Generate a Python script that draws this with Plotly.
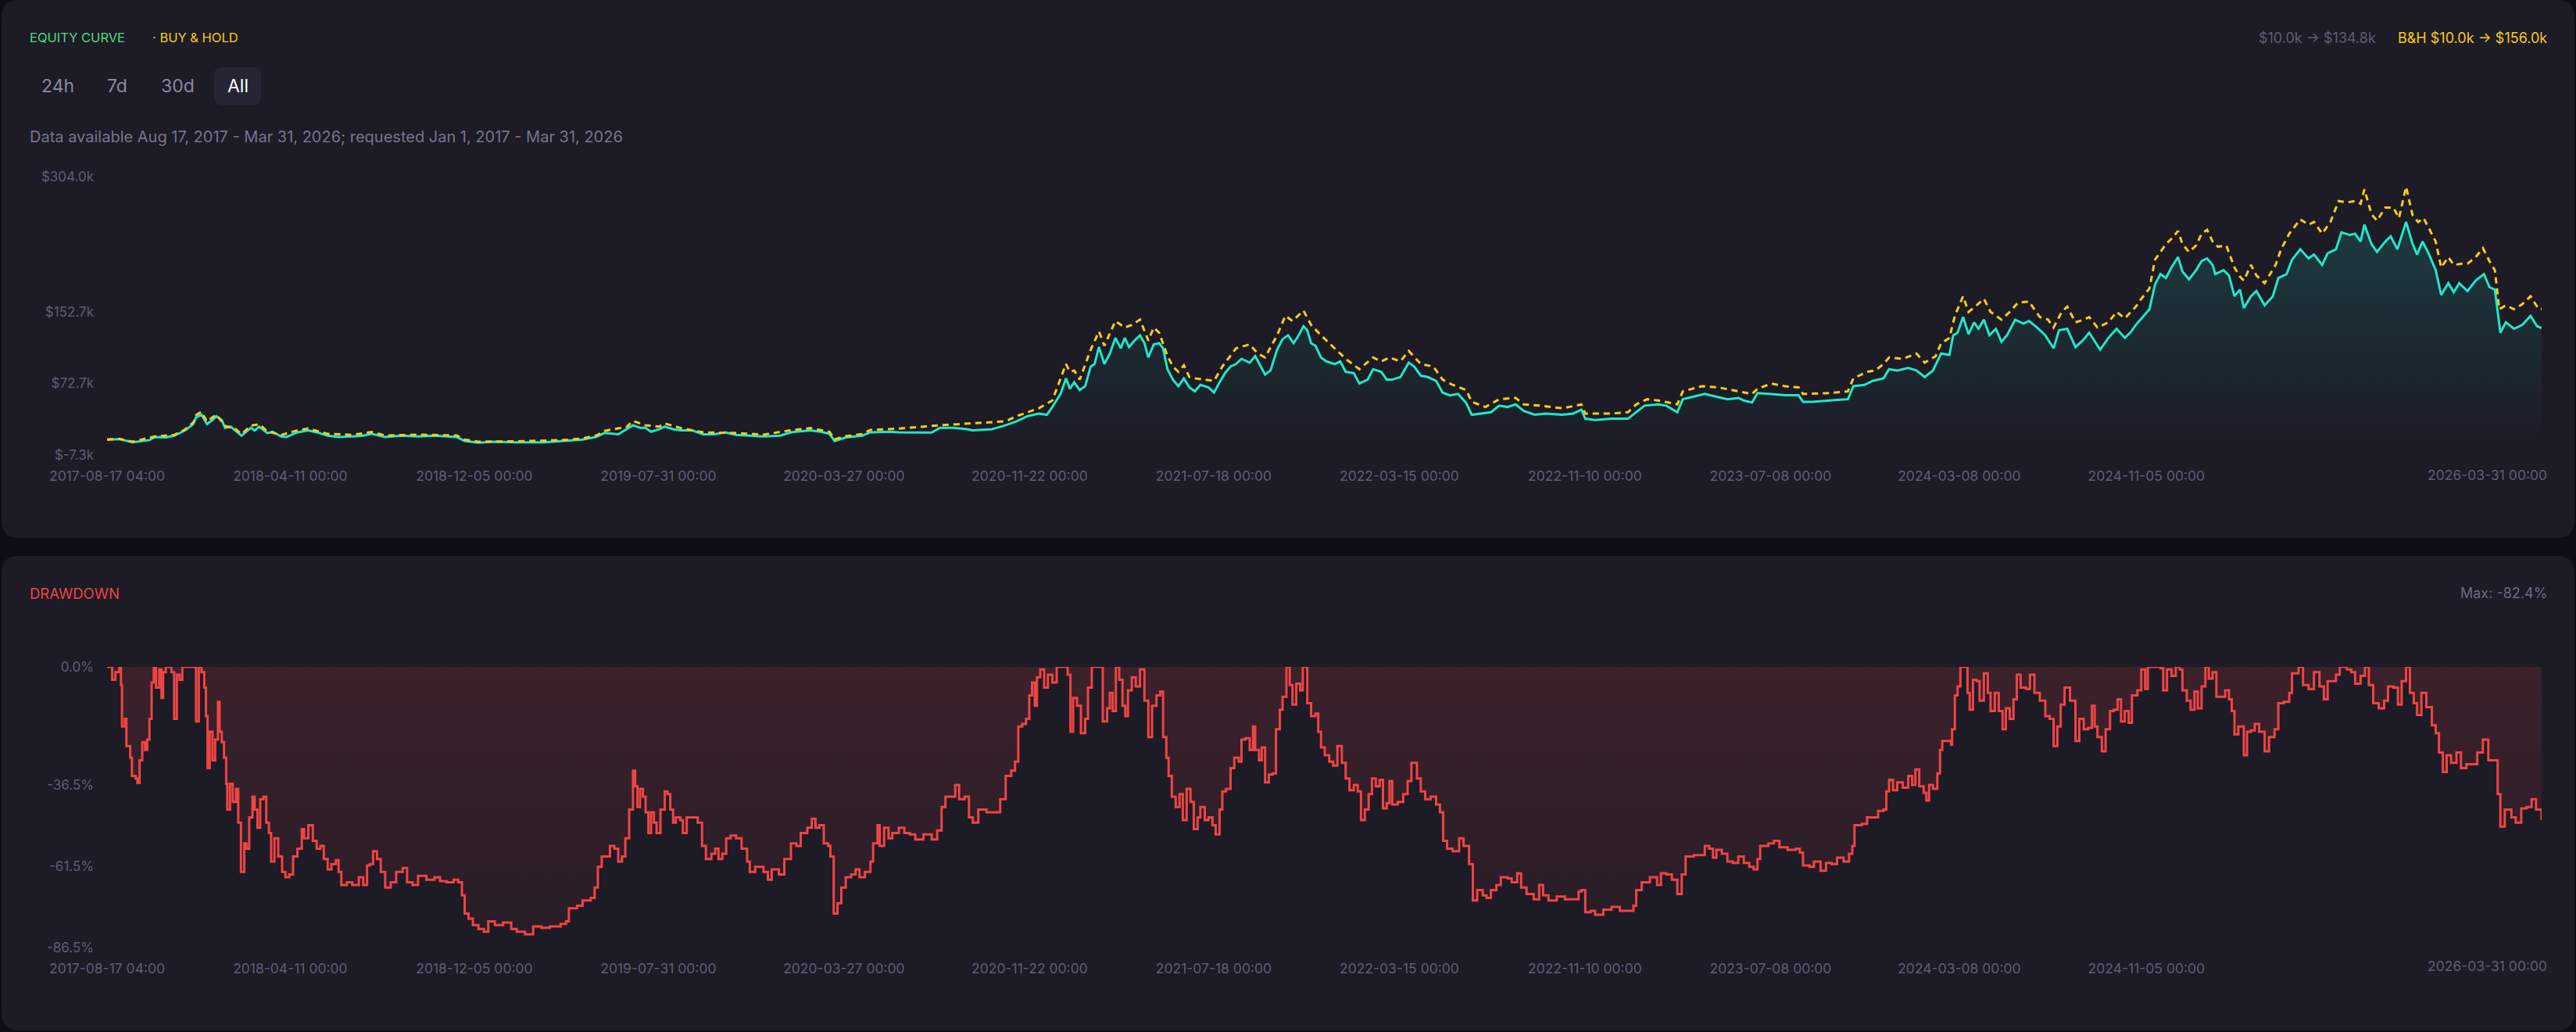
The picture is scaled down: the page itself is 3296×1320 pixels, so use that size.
import pandas as pd
import plotly.graph_objects as go

W, H = 3296, 1320
START = pd.Timestamp("2017-08-17 04:00")

# ---------------- data ----------------
# days since 2017-08-17 04:00, equity in $k
eq_days = [0, 16, 33, 54.8, 61.8, 76, 86.7, 100.8, 111.5, 115, 122.1, 129.2, 136.3, 141.2, 148.3, 152.6,
           159.7, 166.1, 173.9, 185.9, 190.9, 196.5, 207.2, 214.3, 224.9, 232, 246.2, 260.3, 274.5, 285.2,
           299.3, 317, 331.2, 341.9, 359.6, 380.9, 402.1, 423.4, 451.7, 462.4, 480.1, 501.4, 529.7, 565.2,
           593.5, 614.8, 632.5, 643.1, 660.9, 671.5, 680, 689.2, 696.3, 703.4, 714, 721.1, 731.8, 742.4,
           756.6, 770.8, 784.9, 799.1, 813.3, 831, 848.7, 870, 884.2, 909, 923.1, 933.8, 940.9, 955.1,
           976.3, 987, 1011.8, 1023.7, 1066.2, 1076.9, 1094.6, 1112.3, 1119.4, 1144.2, 1161.9, 1176.1,
           1190.3, 1204.5, 1215.1, 1222.2, 1232.8, 1239.9, 1244.9, 1250.5, 1257.6, 1264.7, 1271.8, 1276.8,
           1282.5, 1289.5, 1296.6, 1303.7, 1310.8, 1315.8, 1321.4, 1328.5, 1335.6, 1341.3, 1346.3, 1353.3,
           1360.4, 1365.4, 1371.1, 1378.2, 1385.2, 1392.3, 1399.4, 1406.5, 1413.6, 1424.2, 1431.3, 1438.4,
           1445.5, 1452.6, 1459.7, 1466.8, 1477.4, 1484.5, 1491.6, 1497.3, 1504.3, 1512.8, 1519.9, 1527,
           1534.1, 1539.8, 1546.9, 1551.8, 1556.8, 1562.5, 1569.6, 1576.6, 1587.3, 1594.4, 1601.5, 1612.1,
           1619.2, 1629.8, 1636.9, 1647.5, 1654.6, 1661.7, 1672.3, 1683, 1690.1, 1698.6, 1707.8, 1718.4,
           1726.9, 1736.1, 1746.8, 1757.4, 1764.5, 1775.1, 1789.3, 1800, 1810.6, 1821.2, 1831.9, 1846.1,
           1860.2, 1881.5, 1895.7, 1906.3, 1911.3, 1924, 1945.3, 1966.5, 1977.2, 1987.8, 2005.5, 2016.2,
           2030.3, 2037.4, 2051.6, 2065.8, 2080, 2095, 2109.2, 2116.2, 2126.9, 2134, 2151.7, 2169.4,
           2187.1, 2192.8, 2204.9, 2222.6, 2236.8, 2250.9, 2258, 2272.2, 2282.8, 2297, 2304.1, 2314.7,
           2328.9, 2339.5, 2350.2, 2360.8, 2371.4, 2382.1, 2387, 2392.7, 2399.8, 2406.9, 2414, 2419.7,
           2426.7, 2433.8, 2442.3, 2449.4, 2456.5, 2467.2, 2477.8, 2484.9, 2495.5, 2506.1, 2516.8, 2523.9,
           2534.5, 2545.1, 2554.4, 2562.9, 2577, 2587.7, 2598.3, 2608.9, 2616, 2623.1, 2630.2, 2640.8,
           2647.9, 2655, 2662.1, 2669.2, 2677.7, 2683.4, 2691.9, 2701.1, 2708.2, 2715.3, 2722.4, 2725.9,
           2736.5, 2743.6, 2750.7, 2757.8, 2762.8, 2772, 2779.1, 2789.7, 2800.3, 2807.4, 2818.1, 2825.1,
           2835.8, 2846.4, 2853.5, 2864.1, 2871.2, 2881.9, 2889, 2899.6, 2906.7, 2913.8, 2918.7, 2927.9,
           2935, 2945.7, 2952.7, 2961.3, 2972.6, 2981.1, 2986.8, 2993.9, 3002.4, 3010.9, 3018, 3027.2,
           3034.3, 3041.3, 3052, 3062.6, 3073.3, 3080.4, 3087.4, 3094.5, 3101.6, 3112.2, 3122.9, 3133.5,
           3142, 3147.8]
eq_vals = [10.0, 10.5, 7.0, 9.4, 12.9, 12.3, 14.3, 20.2, 27.4, 34.7, 37.7, 27.4, 31.8, 36.2, 31.8, 23.1,
           24.5, 20.2, 14.3, 23.1, 20.2, 24.5, 17.3, 18.7, 13.5, 12.9, 18.1, 20.2, 17.3, 14.3,
           12.9, 13.5, 14.3, 16.4, 12.9, 14.3, 13.5, 14.3, 12.9, 8.5, 6.5, 7.6, 7.0, 7.0,
           8.5, 10.0, 12.9, 17.3, 15.8, 21.6, 26.0, 23.1, 23.1, 18.7, 21.6, 24.5, 21.6, 20.2,
           20.2, 15.8, 15.8, 18.1, 15.2, 14.3, 13.5, 14.3, 18.1, 20.2, 18.7, 16.4, 8.5, 12.3,
           14.3, 18.1, 18.7, 18.1, 17.8, 23.1, 23.1, 21.6, 20.2, 21.6, 26.0, 30.4,
           36.2, 39.1, 37.7, 46.4, 61.0, 78.5, 66.8, 74.1, 65.4, 69.7, 91.6, 94.5,
           113.4, 94.5, 106.2, 123.7, 112.0, 123.7, 113.4, 120.7, 126.6, 117.8, 101.8, 116.4,
           117.8, 112.0, 88.7, 77.0, 69.7, 78.5, 68.3, 63.9, 71.2, 68.3, 62.5, 74.1,
           84.3, 91.6, 94.5, 100.3, 96.0, 103.3, 91.6, 82.8, 87.2, 110.5, 122.2, 126.6,
           117.8, 125.1, 136.8, 132.4, 117.8, 114.9, 101.8, 97.4, 94.5, 97.4, 85.8, 84.3,
           72.6, 77.0, 88.7, 85.8, 77.0, 77.0, 79.9, 96.0, 91.6, 81.4, 79.9, 75.6,
           62.5, 59.5, 61.0, 50.8, 37.7, 39.1, 40.6, 47.9, 46.4, 49.3, 42.0, 37.7,
           39.1, 37.7, 39.1, 43.5, 33.3, 31.8, 33.3, 33.3, 40.6, 47.9, 49.3, 47.9,
           40.6, 55.1, 58.1, 61.0, 58.1, 55.1, 56.6, 53.7, 51.4, 61.9, 61.0, 59.5,
           59.5, 52.2, 52.2, 53.7, 54.3, 55.1, 69.7, 71.2, 75.6, 78.5, 88.7, 87.2,
           90.1, 87.2, 79.9, 87.2, 106.2, 104.7, 126.6, 129.5, 147.0, 128.0, 141.1, 133.9,
           144.1, 126.6, 133.9, 119.3, 126.6, 144.1, 139.7, 142.6, 135.3, 126.6, 112.0, 132.4,
           133.9, 113.4, 120.7, 129.5, 110.5, 123.7, 133.9, 123.7, 129.5, 138.2, 145.5, 155.7,
           183.4, 195.1, 190.7, 202.4, 214.0, 198.0, 189.2, 199.4, 209.6, 212.6, 205.3, 195.1,
           199.4, 193.6, 170.3, 177.6, 157.2, 170.3, 176.1, 160.1, 170.3, 190.7, 195.1, 211.1,
           222.8, 212.6, 216.9, 205.3, 218.4, 222.8, 241.7, 238.8, 240.3, 231.5, 250.4, 228.6,
           219.8, 231.5, 237.3, 222.8, 253.4, 228.6, 216.9, 231.5, 216.9, 199.4, 171.7, 184.9,
           174.7, 184.9, 176.1, 187.8, 195.1, 180.5, 177.6, 129.5, 141.1, 133.9, 138.2, 148.4,
           136.8, 134.8]

# buy & hold, $k
bh_days = [0, 16, 33, 62, 87, 101, 112, 115, 122, 129, 141, 153, 166, 174, 186, 197, 207, 225, 246, 260,
           285, 317, 342, 360, 402, 452, 462, 480, 530, 593, 615, 633, 643, 672, 680, 696, 714, 721, 742,
           771, 813, 849, 884, 909, 934, 941, 955, 976, 987, 1012, 1023.7, 1076.9, 1161.9, 1176.1,
           1204.5, 1222.2, 1239.9, 1244.9, 1250.5, 1257.6, 1271.8, 1282.5, 1289.5, 1303.7, 1315.8, 1325,
           1335.6, 1346.3, 1353.3, 1360.4, 1371.1, 1378.2, 1385.2, 1392.3, 1399.4, 1406.5, 1420.7, 1431.3,
           1442, 1452.6, 1459.7, 1477.4, 1488, 1497.3, 1512.8, 1523.5, 1532.7, 1546.9, 1556.8, 1569.6,
           1587.3, 1601.5, 1619.2, 1636.9, 1647.5, 1658.2, 1672.3, 1683, 1698.6, 1714.9, 1726.9, 1739.7,
           1757.4, 1764.5, 1782.2, 1800, 1821.2, 1831.9, 1853.1, 1881.5, 1906.3, 1911.3, 1945.3, 1966.5,
           1977.2, 1991.4, 2005.5, 2030.3, 2037.4, 2062.2, 2083.5, 2109.2, 2126.9, 2134, 2151.7, 2169.4,
           2187.1, 2192.8, 2222.6, 2250.9, 2258, 2275.7, 2286.4, 2297, 2304.1, 2321.8, 2339.5, 2350.2,
           2364.4, 2371.4, 2382.1, 2389.2, 2399.8, 2406.9, 2415.4, 2426.7, 2435.3, 2449.4, 2460.1, 2470.7,
           2484.9, 2499, 2509.7, 2516.8, 2527.4, 2534.5, 2545.1, 2555.8, 2562.9, 2573.5, 2587.7, 2598.3,
           2608.9, 2623.1, 2630.2, 2640.8, 2647.9, 2655, 2662.1, 2669.2, 2677.7, 2683.4, 2691.9, 2701.1,
           2708.2, 2715.3, 2722.4, 2729.4, 2740.1, 2750.7, 2757.8, 2762.8, 2772, 2779.1, 2789.7, 2796.8,
           2803.9, 2811, 2821.6, 2835.8, 2846.4, 2853.5, 2864.1, 2874.8, 2885.4, 2896, 2906.7, 2913.8,
           2918.7, 2927.9, 2935, 2945.7, 2956.3, 2963.4, 2972.6, 2981.1, 2988.2, 2995.3, 3002.4, 3010.9,
           3018, 3027.2, 3034.3, 3044.9, 3052, 3062.6, 3071.9, 3080.4, 3087.4, 3093.1, 3101.6, 3112.2,
           3122.9, 3133.5, 3144.2, 3147.8]
bh_vals = [10.0, 10.8, 7.6, 13.5, 15.2, 21.3, 29.5, 37.3, 41.2, 30.1, 38.0, 25.0, 22.0, 16.0, 25.6, 27.1,
           19.2, 15.0, 20.3, 22.4, 16.4, 15.2, 18.4, 14.6, 15.4, 14.6, 10.0, 7.6, 8.0, 9.6, 11.3, 14.6,
           19.6, 24.3, 30.9, 26.0, 24.5, 28.0, 22.8, 18.0, 17.4, 15.5, 20.4, 22.8, 18.6, 10.2, 13.8, 16.2,
           20.7, 21.3, 22.2, 26.0, 30.4, 36.2, 44.9, 53.7, 94.5, 85.8, 87.2, 77.0, 110.5, 130.9, 114.9,
           142.6, 135.3, 138.2, 144.1, 120.7, 135.3, 129.5, 103.3, 91.6, 85.8, 93.1, 79.9, 78.5, 77.0,
           75.6, 91.6, 103.3, 112.0, 116.4, 106.2, 101.8, 126.6, 148.4, 142.6, 154.3, 138.2, 126.6,
           112.0, 100.3, 88.7, 101.8, 97.4, 101.8, 97.4, 109.1, 94.5, 91.6, 77.0, 71.2, 65.4, 52.2, 46.4,
           55.1, 56.6, 49.3, 47.9, 45.0, 49.3, 39.1, 39.1, 40.6, 49.3, 55.1, 53.7, 49.3, 63.9, 69.7,
           68.3, 63.9, 61.0, 66.8, 72.6, 69.7, 68.3, 61.0, 61.8, 63.9, 78.5, 85.8, 87.2, 94.5, 101.8,
           100.3, 106.2, 96.0, 103.3, 117.8, 123.7, 148.4, 170.3, 152.8, 158.6, 167.4, 152.8, 144.1,
           152.8, 163.0, 164.5, 147.0, 144.1, 135.3, 152.8, 158.6, 141.1, 144.1, 147.0, 135.3, 141.1,
           152.8, 145.5, 158.6, 167.4, 179.0, 211.1, 219.8, 228.6, 234.4, 243.2, 228.6, 219.8, 227.1,
           240.3, 244.6, 231.5, 225.7, 227.1, 202.4, 192.2, 187.8, 205.3, 193.6, 184.9, 195.1, 205.3,
           222.8, 240.3, 256.3, 250.4, 253.4, 240.3, 253.4, 276.7, 275.2, 276.7, 273.8, 289.8, 262.1,
           254.8, 269.4, 269.4, 257.7, 292.7, 260.7, 253.4, 257.7, 246.1, 231.5, 202.4, 214.0, 205.3,
           206.7, 206.7, 214.0, 224.2, 209.6, 199.4, 155.7, 160.1, 155.7, 161.5, 170.3, 155.7, 156.0]

# drawdown, %
dd_days = [0, 5.1, 6.6, 10.8, 15.8, 17.9, 19.3, 22.9, 25, 29.9, 32.1, 37, 39.2, 42, 45.5, 49.1, 51.9, 54.8,
           57.6, 60.4, 63.3, 67.5, 70.4, 72.5, 76, 83.1, 86.7, 90.2, 93.7, 97.3, 107.9, 113.6, 115, 118.6,
           122.1, 125.6, 127.8, 129.9, 132.7, 136.3, 139.8, 143.4, 145.5, 148.3, 151.2, 154, 155.4, 159,
           162.5, 166.8, 169.6, 173.1, 177.4, 180.2, 183.8, 188, 190.9, 194.4, 198, 202.2, 205.8, 209.3,
           212.1, 216.4, 221.3, 226.3, 230.6, 235.5, 240.5, 246.2, 251.8, 254.7, 260.3, 266, 271, 275.9,
           280.2, 285.2, 290.1, 295.8, 299.3, 302.9, 310, 317, 325.6, 331.2, 336.2, 339.7, 344, 349,
           353.9, 359.6, 366.7, 373.8, 382.3, 387.9, 395, 402.1, 412.8, 423.4, 430.5, 439, 448.2, 453.9,
           458.8, 462.4, 467.3, 473, 480.1, 487.2, 492.9, 501.4, 512, 522.6, 529.7, 540.4, 551, 561.6,
           572.3, 586.4, 593.5, 597.1, 607.7, 614.8, 625.4, 630.4, 634.6, 639.6, 646.7, 650.2, 655.9,
           660.9, 665.8, 670.1, 675.1, 680, 682.8, 685.7, 689.2, 692.8, 696.3, 699.9, 703.4, 707, 710.5,
           715.5, 721.1, 724.7, 728.2, 731.8, 735.3, 741, 744.5, 749.5, 756.6, 763.7, 769.3, 774.3,
           781.4, 786.3, 790.6, 795.5, 800.5, 806.2, 813.3, 820.4, 827.5, 831, 838.1, 848.7, 854.4,
           859.4, 868.6, 875.7, 884.2, 891.3, 896.9, 905.4, 911.1, 916.1, 921, 926.7, 932.4, 935.2,
           939.5, 944.4, 949.4, 955.1, 962.1, 967.8, 972.8, 979.9, 987, 990.5, 996.2, 999, 1004.7,
           1010.4, 1015.3, 1023.7, 1030.8, 1037.9, 1045, 1055.6, 1066.2, 1073.3, 1079, 1084, 1091,
           1096.7, 1101.7, 1108.8, 1114.4, 1119.4, 1126.5, 1137.1, 1147.8, 1154.8, 1161.9, 1169, 1174,
           1178.2, 1183.2, 1188.2, 1192.4, 1196, 1199.5, 1202.3, 1206.6, 1211.6, 1216.5, 1222.2, 1227.9,
           1236.4, 1242, 1245.6, 1249.1, 1254.1, 1259.1, 1264.7, 1268.3, 1273.2, 1282.5, 1287.4, 1293.1,
           1296.6, 1300.2, 1304.4, 1308.7, 1312.9, 1316.5, 1320, 1325, 1330, 1335.6, 1341.3, 1346.3,
           1351.2, 1356.9, 1361.8, 1365.4, 1369.6, 1372.5, 1376.7, 1381.7, 1386.7, 1390.9, 1395.9,
           1400.8, 1405.1, 1410.1, 1413.6, 1419.3, 1424.2, 1429.2, 1433.4, 1438.4, 1442, 1446.9, 1452.6,
           1457.5, 1463.2, 1466.8, 1471.7, 1477.4, 1481.7, 1484.5, 1489.5, 1493, 1497.3, 1502.2, 1507.2,
           1511.4, 1516.4, 1519.9, 1524.9, 1529.1, 1532.7, 1537.6, 1542.6, 1546.1, 1551.8, 1556.8,
           1562.5, 1566, 1569.6, 1574.5, 1580.2, 1585.2, 1590.8, 1596.5, 1601.5, 1606.4, 1612.1, 1617.1,
           1621.3, 1626.3, 1631.2, 1635.5, 1640.4, 1645.4, 1649.7, 1654.6, 1658.2, 1661.7, 1668.8,
           1675.9, 1681.6, 1686.5, 1693.6, 1698.6, 1704.3, 1711.3, 1718.4, 1723.4, 1727.6, 1732.6,
           1739.7, 1748.2, 1753.9, 1761, 1765.9, 1771.6, 1778.7, 1783.6, 1789.3, 1796.4, 1802.1, 1810.6,
           1816.2, 1823.3, 1828.3, 1835.4, 1844.6, 1851.7, 1856.7, 1863.7, 1874.4, 1885, 1895.7, 1902.7,
           1906.3, 1911.3, 1918.4, 1924, 1934.7, 1945.3, 1956, 1966.5, 1973.6, 1977.2, 1984.3, 1994.9,
           2004.1, 2009.1, 2016.2, 2023.2, 2030.3, 2036, 2041, 2051.6, 2060.1, 2065.8, 2071.5, 2076.4,
           2080.8, 2087.9, 2095, 2102.1, 2109.2, 2116.2, 2123.3, 2129, 2134, 2137.5, 2148.1, 2155.2,
           2162.3, 2173, 2183.6, 2188.6, 2192.8, 2201.3, 2207, 2215.5, 2222.6, 2229.7, 2236.8, 2245.3,
           2252.4, 2256.6, 2259.4, 2268.7, 2275.7, 2282.8, 2289.9, 2297, 2300.6, 2304.1, 2309.1, 2314.7,
           2321.8, 2328.9, 2333.9, 2338.1, 2343.1, 2348.8, 2352.3, 2355.9, 2360.8, 2366.5, 2370, 2372.9,
           2378.5, 2384.2, 2385.6, 2389.2, 2392.7, 2396.3, 2401.2, 2405.5, 2408.3, 2412.6, 2417.5,
           2421.1, 2426.7, 2431.7, 2435.3, 2440.9, 2445.9, 2450.8, 2455.1, 2460.1, 2465, 2469.3, 2474.2,
           2481.3, 2486.3, 2492, 2499, 2506.1, 2511.8, 2516.8, 2521.7, 2526, 2531, 2538, 2545.1, 2550.1,
           2555.8, 2561.4, 2566.4, 2569.9, 2573.5, 2579.2, 2584.1, 2589.8, 2594.7, 2599.7, 2604, 2608.9,
           2613.9, 2618.1, 2625.2, 2630.2, 2635.2, 2638.7, 2647.9, 2655, 2658.5, 2663.5, 2669.2, 2674.8,
           2679.8, 2683.4, 2689, 2694, 2699, 2703.2, 2708.2, 2713.1, 2717.4, 2722.4, 2727.3, 2733,
           2738.7, 2743.6, 2747.2, 2750.7, 2755.7, 2762.8, 2767, 2772, 2776.9, 2782.6, 2789.7, 2795.4,
           2802.5, 2807.4, 2814.5, 2821.6, 2825.1, 2833.6, 2839.3, 2846.4, 2853.5, 2860.6, 2866.3,
           2871.2, 2881.9, 2886.8, 2896, 2901.7, 2906.7, 2913.8, 2919.4, 2924.4, 2930.1, 2937.2, 2944.2,
           2949.2, 2956.3, 2962, 2966.9, 2972.6, 2977.5, 2982.5, 2986.8, 2992.4, 2998.8, 3005.9, 3010.9,
           3015.1, 3020.1, 3025.1, 3030.7, 3037.8, 3043.5, 3050.6, 3059.1, 3064.7, 3071.9, 3078.9,
           3087.4, 3091, 3094.5, 3100.2, 3108.7, 3114.4, 3121.5, 3128.5, 3134.9, 3140.6, 3147.8]
dd_vals = [0, 0, -4.0, -1.6, 0, -5.6, -18.4, -16, -24.4, -28, -33.6, -34.4, -35.8, -28.8, -23.2, -25.6, -22.4,
           -16, -4.8, 0, -6.4, -0.8, -9.6, -1.6, 0, -1.6, -16, -2.4, -4, 0, 0, 0, -16.8, 0, -1.6, -6.4,
           -15.2, -31.2, -20, -28.8, -22.4, -10.8, -20, -23.2, -28, -36, -44, -36, -41.6, -37.6, -48,
           -63.2, -54.4, -56, -46.4, -40, -44, -49.6, -40.8, -40, -48, -51.2, -60, -52.8, -58.4, -63.2,
           -64.8, -64, -58.4, -56, -50, -52.8, -48.8, -53.6, -56, -55.2, -59.2, -62.4, -60.8, -59.6,
           -63.2, -67.2, -66.4, -67.2, -64.8, -67.2, -61.2, -60.8, -56.8, -59.2, -63.2, -68, -66.4,
           -63.2, -62, -66.4, -67.2, -64.4, -65.6, -64.8, -66, -66.4, -65.6, -66.4, -70.4, -76, -77.6,
           -79.6, -80.8, -81.6, -78.4, -79.6, -78.8, -80.8, -81.6, -82.4, -80, -80.4, -80, -79.2, -78.4,
           -74.4, -73.6, -72, -71.2, -68, -61.6, -58.4, -58.4, -55.2, -56, -60, -58.4, -52.8, -44, -32,
           -36.8, -43.2, -37.6, -40, -44.8, -51.2, -44.8, -48, -51.2, -44, -38.4, -39.2, -44, -48, -46.4,
           -47.2, -51.2, -46.4, -46.4, -48, -55.2, -59.2, -57.6, -56, -59.2, -57.6, -52.8, -52, -52.8,
           -56, -60, -63.2, -61.6, -63.2, -65.6, -62.4, -64, -59.2, -54.4, -55.2, -51.2, -49.6, -46.8,
           -49.6, -48.8, -54.4, -55.2, -58.4, -76, -72.8, -68, -64.8, -64, -62.4, -64.8, -63.2, -60,
           -54.4, -48.8, -55.2, -49.6, -52.8, -51.2, -49.6, -51.2, -51.6, -53.2, -51.6, -53.2, -50.4,
           -43.2, -40, -40, -36.4, -40.8, -40, -46.4, -48, -44, -44.8, -44.8, -40.8, -33.6, -32, -29.2,
           -18.4, -17.6, -16, -8.8, -4.8, -12, -3.2, -0.8, -6.4, -2.4, -4.8, 0, 0, -2.4, -20, -9.6, -12,
           -20.4, -16, -6.4, 0, 0, -16.8, -12.8, -8, -13.6, 0, -4, -12, -15.2, -7.2, -3.2, -6, -0.8,
           -10.4, -21.6, -12, -8.8, -7.6, -21.6, -28, -33.6, -40, -43.2, -39.2, -47.2, -37.6, -41.6, -50,
           -46.4, -43.2, -47.2, -46.4, -48.8, -51.6, -44, -38.4, -37.6, -31.2, -28, -29.2, -22.4, -22,
           -25.6, -18.4, -25.6, -28.8, -24.8, -35.6, -33.2, -32.8, -19.2, -13.2, -9.2, 0, -5.6, -11.6,
           -5.2, -7.2, 0, -11.2, -15.2, -14.4, -20, -24.8, -27.2, -29.2, -30.4, -24.4, -29.6, -34.4, -38,
           -36.4, -38.4, -47.2, -44, -39.2, -34.4, -36.8, -34.8, -43.6, -42, -35.2, -42.4, -41.6, -39.2,
           -35.2, -29.6, -34.4, -38.4, -40.8, -40, -42.4, -44.8, -53.6, -56, -56.8, -52.8, -55.2, -60.8,
           -72, -68.8, -70.4, -71.2, -68.8, -67.2, -64.8, -65.2, -66.4, -63.6, -68, -70, -71.6, -67.2,
           -70.4, -72, -70.8, -71.6, -71.6, -69.2, -68.8, -75.6, -75.2, -76.4, -74.8, -74, -75.2, -75.2,
           -73.6, -68.8, -66.4, -64.8, -67.2, -63.6, -64, -65.6, -70, -64, -58.4, -58, -58, -55.2, -56,
           -58.8, -56.4, -57.6, -60, -60.4, -58.4, -60.4, -61.6, -62.4, -59.2, -55.2, -54.4, -53.6, -55.6,
           -56.4, -56, -57.2, -61.2, -61.6, -60, -62.8, -60.4, -60.8, -58.8, -60, -57.6, -55.2, -48.8,
           -48.4, -46.4, -46.4, -44.4, -44, -38.4, -34.8, -38, -35.6, -37.2, -33.6, -36.4, -31.6, -36.8,
           -38.8, -41.2, -36.4, -37.6, -32.8, -25.6, -22.8, -22.8, -24, -19.2, -8.8, -6, 0, 0, -8, -13.2,
           -4, -4.4, -10.4, -2, -8, -13.6, -8, -13.6, -19.2, -12.8, -16, -10, -2.4, -6.4, -6.8, -2.4, -8,
           -10.4, -15.2, -16, -24.4, -18.4, -11.6, -6.4, -10.4, -22.8, -16, -19.2, -18.8, -12, -18.4,
           -21.6, -26, -19.2, -13.6, -13.2, -10, -16.8, -13.6, -17.2, -8.8, -7.2, -0.8, -6.8, 0, 0, -0.4,
           -7.2, -0.8, -2.8, 0, -0.8, -7.2, -10.4, -13.2, -7.6, -12.8, -6, 0, -3.6, -1.6, -9.2, -9.2,
           -7.2, -10, -13.6, -20.8, -18.4, -27.2, -20, -19.6, -17.6, -20, -26, -21.6, -19.2, -11.2,
           -10.8, -8, -2, 0, -5.6, -6.8, -1.6, -6, -10, -4.4, -2.4, 0, -0.8, -1.6, -5.2, -2.8, 0, -5.6,
           -11.2, -12.8, -10.4, -6, -6.4, -11.6, -4.4, 0, -8, -11.2, -14.8, -8, -12.4, -18, -20.4, -26.4,
           -32.4, -27.2, -29.6, -26.4, -31.2, -30, -30, -26.4, -22.4, -28.8, -28.8, -39.2, -49.2, -44,
           -46.4, -48, -43.6, -43.2, -40.8, -44, -47.2]

x_tick_dates = ["2017-08-17 04:00", "2018-04-11 00:00", "2018-12-05 00:00", "2019-07-31 00:00",
                "2020-03-27 00:00", "2020-11-22 00:00", "2021-07-18 00:00", "2022-03-15 00:00",
                "2022-11-10 00:00", "2023-07-08 00:00", "2024-03-08 00:00", "2024-11-05 00:00"]
x_last_label = "2026-03-31 00:00"
eq_tick_vals = [-7.3, 72.7, 152.7, 304.0]
eq_tick_text = ["$-7.3k", "$72.7k", "$152.7k", "$304.0k"]
dd_tick_vals = [0.0, -36.5, -61.5, -86.5]
dd_tick_text = ["0.0%", "-36.5%", "-61.5%", "-86.5%"]

# ---------------- styling ----------------
BG = "#0e0d16"
CARD = "#1c1b26"
TICK = "#5f5e75"
CYAN = "#1fe8c9"
YELLOW = "#facc15"
RED = "#ef4444"
FONT = "Inter"


def to_dates(days):
    return [START + pd.Timedelta(days=d) for d in days]


eq_x = to_dates(eq_days)
bh_x = to_dates(bh_days)
dd_x = to_dates(dd_days)
x_end = pd.Timestamp("2026-03-31 00:00")


def px(x):
    return x / W


def py(y):
    return 1 - y / H


def rrect(x0, y0, x1, y1, r):
    pts = [
        f"M {px(x0 + r)} {py(y0)}", f"L {px(x1 - r)} {py(y0)}", f"Q {px(x1)} {py(y0)} {px(x1)} {py(y0 + r)}",
        f"L {px(x1)} {py(y1 - r)}", f"Q {px(x1)} {py(y1)} {px(x1 - r)} {py(y1)}",
        f"L {px(x0 + r)} {py(y1)}", f"Q {px(x0)} {py(y1)} {px(x0)} {py(y1 - r)}",
        f"L {px(x0)} {py(y0 + r)}", f"Q {px(x0)} {py(y0)} {px(x0 + r)} {py(y0)}", "Z",
    ]
    return " ".join(pts)


fig = go.Figure()
fig.add_trace(go.Scatter(
    x=eq_x, y=eq_vals, mode="lines", line=dict(color=CYAN, width=3),
    fill="tozeroy",
    fillgradient=dict(type="vertical", start=0, stop=260,
                      colorscale=[[0, "rgba(31,232,201,0)"], [1, "rgba(31,232,201,0.16)"]]),
    xaxis="x", yaxis="y", hoverinfo="skip", showlegend=False))
fig.add_trace(go.Scatter(
    x=bh_x, y=bh_vals, mode="lines", line=dict(color=YELLOW, width=3, dash="8px,6px"),
    xaxis="x", yaxis="y", hoverinfo="skip", showlegend=False))
fig.add_trace(go.Scatter(
    x=dd_x, y=dd_vals, mode="lines", line=dict(color=RED, width=3, shape="hv"),
    fill="tozeroy",
    fillgradient=dict(type="vertical", start=-86.5, stop=0,
                      colorscale=[[0, "rgba(239,68,68,0.05)"], [1, "rgba(239,68,68,0.15)"]]),
    xaxis="x2", yaxis="y2", hoverinfo="skip", showlegend=False))

xdom = [137 / W, 3252 / W]
common_x = dict(domain=xdom, range=[eq_x[0], x_end], showgrid=False, zeroline=False, showline=False,
                ticks="", tickvals=x_tick_dates, ticktext=x_tick_dates, automargin=False,
                tickfont=dict(family=FONT, size=17.5, color=TICK), ticklabelstandoff=14, fixedrange=True)
common_y = dict(showgrid=False, zeroline=False, showline=False, ticks="", automargin=False,
                tickfont=dict(family=FONT, size=17, color=TICK), ticklabelstandoff=16, fixedrange=True)

annotations = []


def txt(x, y, s, color, size, anchor="left"):
    annotations.append(dict(xref="paper", yref="paper", x=px(x), y=py(y), text=s, showarrow=False,
                            xanchor=anchor, yanchor="middle",
                            font=dict(family=FONT, size=size, color=color)))


txt(36, 48, "EQUITY CURVE", "#4ade80", 16.5)
txt(193, 48, "· BUY &amp; HOLD", YELLOW, 16.5)
txt(3042, 48, "$10.0k → $134.8k", "#5f5e75", 18, "right")
txt(3261, 48, "B&amp;H $10.0k → $156.0k", YELLOW, 18, "right")
txt(51, 110, "24h", "#8a89a1", 23)
txt(135, 110, "7d", "#8a89a1", 23)
txt(204, 110, "30d", "#8a89a1", 23)
txt(289, 110, "All", "#ffffff", 23)
txt(36, 175, "Data available Aug 17, 2017 - Mar 31, 2026; requested Jan 1, 2017 - Mar 31, 2026", "#76758c", 20)
txt(36, 759, "DRAWDOWN", RED, 18.5)
txt(3261, 759, "Max: -82.4%", "#6b6a80", 18, "right")

for xr, ypx in (("x", 607), ("x2", 1235)):
    annotations.append(dict(xref=xr, yref="paper", x=x_end, y=py(ypx), text=x_last_label, showarrow=False,
                            xanchor="right", yanchor="middle", xshift=9,
                            font=dict(family=FONT, size=17.5, color=TICK)))

shapes = [
    dict(type="path", xref="paper", yref="paper", path=rrect(2, 0, 3294, 688, 22),
         fillcolor=CARD, line=dict(width=0), layer="below"),
    dict(type="path", xref="paper", yref="paper", path=rrect(2, 711, 3294, 1318, 22),
         fillcolor=CARD, line=dict(width=0), layer="below"),
    dict(type="path", xref="paper", yref="paper", path=rrect(274, 86, 334, 134, 10),
         fillcolor="#262533", line=dict(width=0), layer="below"),
]

fig.update_layout(
    template="none",
    width=W, height=H, margin=dict(l=0, r=0, t=0, b=0, pad=0, autoexpand=False),
    paper_bgcolor=BG, plot_bgcolor="rgba(0,0,0,0)",
    font=dict(family=FONT, color=TICK),
    xaxis=dict(anchor="y", **common_x),
    yaxis=dict(domain=[py(582), py(226)], range=[-7.3, 304.0], tickvals=eq_tick_vals,
               ticktext=eq_tick_text, anchor="x", **common_y),
    xaxis2=dict(anchor="y2", **common_x),
    yaxis2=dict(domain=[py(1212), py(853)], range=[-86.5, 0], tickvals=dd_tick_vals,
                ticktext=dd_tick_text, anchor="x2", **common_y),
    shapes=shapes, annotations=annotations, hovermode=False, showlegend=False,
)

fig.write_html("out.html", config={"displayModeBar": False, "staticPlot": True},
               post_script="document.body.style.margin='0';document.body.style.background='%s';" % BG)
